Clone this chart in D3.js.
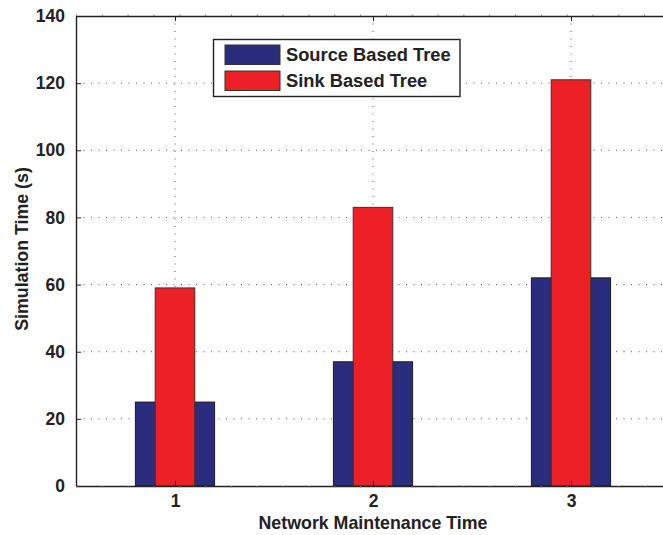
<!DOCTYPE html>
<html>
<head>
<meta charset="utf-8">
<script src="https://cdn.jsdelivr.net/npm/d3@7"></script>
<style>
  html, body { margin: 0; padding: 0; background: #fff; }
  svg { display: block; }
  text { font-family: "Liberation Sans", Arial, sans-serif; font-weight: bold; fill: #222; }
</style>
</head>
<body>
<svg id="chart" width="663" height="535"></svg>
<script>
// Simulation time per network maintenance round
const categories = [1, 2, 3];
const sourceBased = [25, 37, 62];
const sinkBased = [59, 83, 121];
const yTicks = [0, 20, 40, 60, 80, 100, 120, 140];
const seriesNames = ["Source Based Tree", "Sink Based Tree"];

const svg = d3.select("#chart");

const x = d3.scaleLinear().domain([0.5, 3.5]).range([76, 670]);
const y = d3.scaleLinear().domain([0, 140]).range([486, 16]);

const axisColor = "#222";
const blue = "#2a2d7c";
const red = "#ed2125";

// dotted grid
const grid = svg.append("g");
grid.selectAll("line.h").data(yTicks.filter(d => d > 0 && d < 140)).join("line")
  .attr("x1", x(0.5)).attr("x2", x(3.5))
  .attr("y1", d => y(d)).attr("y2", d => y(d))
  .attr("stroke", "#555").attr("stroke-width", 1)
  .attr("stroke-dasharray", "1,6.5");
grid.selectAll("line.v").data(categories).join("line")
  .attr("x1", d => x(d)).attr("x2", d => x(d))
  .attr("y1", y(140)).attr("y2", y(0))
  .attr("stroke", "#555").attr("stroke-width", 1)
  .attr("stroke-dasharray", "1,6.5");

// bars: wide source-based bars behind narrow sink-based bars
svg.append("g").selectAll("rect").data(categories).join("rect")
  .attr("x", (d) => x(d - 0.2))
  .attr("width", x(0.9) - x(0.5))
  .attr("y", (d, i) => y(sourceBased[i]))
  .attr("height", (d, i) => y(0) - y(sourceBased[i]))
  .attr("fill", blue).attr("stroke", "#1a1a1a").attr("stroke-width", 1);

svg.append("g").selectAll("rect").data(categories).join("rect")
  .attr("x", (d) => x(d - 0.1))
  .attr("width", x(0.7) - x(0.5))
  .attr("y", (d, i) => y(sinkBased[i]))
  .attr("height", (d, i) => y(0) - y(sinkBased[i]))
  .attr("fill", red).attr("stroke", "#333").attr("stroke-width", 1);

// axes
const yAxis = d3.axisLeft(y).tickValues(yTicks).tickSizeInner(-5).tickSizeOuter(0).tickPadding(11);
const gy = svg.append("g").attr("transform", `translate(${x(0.5)},0)`).call(yAxis);
const xAxis = d3.axisBottom(x).tickValues(categories).tickFormat(d3.format("d")).tickSizeInner(-5).tickSizeOuter(0).tickPadding(9);
const gx = svg.append("g").attr("transform", `translate(0,${y(0)})`).call(xAxis);
const xTop = d3.axisTop(x).tickValues(categories).tickFormat("").tickSizeInner(-5).tickSizeOuter(0);
const gt = svg.append("g").attr("transform", `translate(0,${y(140)})`).call(xTop);

// fine outward minor ticks along the horizontal axes
const minor = d3.range(0, 24).map(k => 0.5 + k / 23 * 3);
const minorBottom = d3.axisBottom(x).tickValues(minor).tickFormat("").tickSize(1.5).tickSizeOuter(0);
const minorTop = d3.axisTop(x).tickValues(minor).tickFormat("").tickSize(1.5).tickSizeOuter(0);
[svg.append("g").attr("transform", `translate(0,${y(0)})`).call(minorBottom),
 svg.append("g").attr("transform", `translate(0,${y(140)})`).call(minorTop)].forEach(g => {
  g.select(".domain").remove();
  g.selectAll(".tick line").attr("stroke", "#777").attr("stroke-width", 1);
});

[gx, gy, gt].forEach(g => {
  g.select(".domain").attr("stroke", axisColor).attr("stroke-width", 1.4);
  g.selectAll(".tick line").attr("stroke", axisColor).attr("stroke-width", 1);
  g.selectAll(".tick text").attr("font-size", 17.5).attr("fill", "#222")
    .attr("font-family", "Liberation Sans, Arial, sans-serif").attr("font-weight", "bold");
});

// axis titles
svg.append("text")
  .attr("x", x(2)).attr("y", 529)
  .attr("text-anchor", "middle").attr("font-size", 17.8)
  .text("Network Maintenance Time");
svg.append("text")
  .attr("transform", `translate(28,249) rotate(-90)`)
  .attr("text-anchor", "middle").attr("font-size", 17.8)
  .text("Simulation Time (s)");

// legend
const legend = svg.append("g");
legend.append("rect")
  .attr("x", 213.5).attr("y", 39.5).attr("width", 246.5).attr("height", 57)
  .attr("fill", "#fff").attr("stroke", axisColor).attr("stroke-width", 1.4);
const colors = [blue, red];
seriesNames.forEach((name, i) => {
  const top = 45 + i * 26;
  legend.append("rect")
    .attr("x", 225).attr("y", top).attr("width", 55).attr("height", 19.5)
    .attr("fill", colors[i]).attr("stroke", "#333").attr("stroke-width", 1);
  legend.append("text")
    .attr("x", 286).attr("y", top + 16)
    .attr("font-size", 18.3)
    .text(name);
});
</script>
</body>
</html>
